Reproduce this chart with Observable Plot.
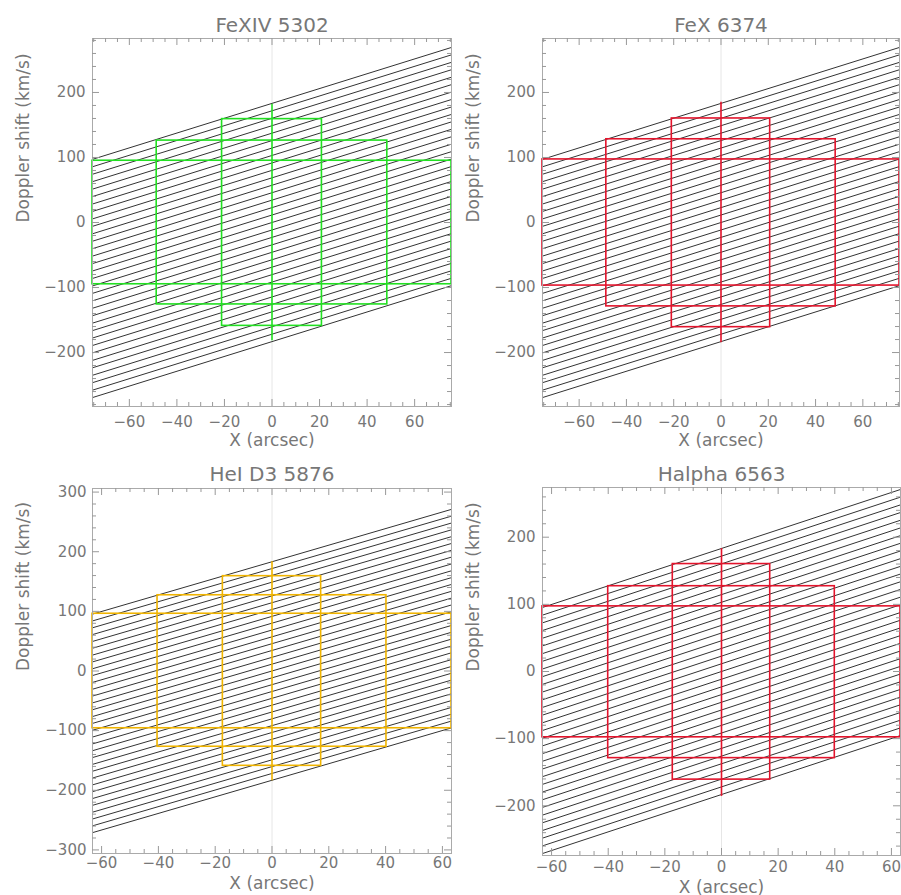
<!DOCTYPE html>
<html><head><meta charset="utf-8">
<script src="https://cdn.jsdelivr.net/npm/d3@7"></script>
<script src="https://cdn.jsdelivr.net/npm/@observablehq/plot@0.6"></script>
<style>
body{margin:0;background:#fff;}
#chart{position:relative;width:901px;height:895px;background:#fff;overflow:hidden;}
#chart svg{position:absolute;}
</style></head><body><div id="chart"></div>
<script>
// ---- data ----
const titles = ["FeXIV 5302", "FeX 6374", "HeI D3 5876", "Halpha 6563"];
const boxColors = ["#22e022", "#e3142c", "#f0b400", "#e3142c"];
const xLimits = [75.5, 75.5, 63.2, 63.2];
const yLimits = [283, 283, 306, 274];
const xTickValues = [-60, -40, -20, 0, 20, 40, 60];
const yTickValuesA = [-200, -100, 0, 100, 200];
const yTickValuesB = [-300, -200, -100, 0, 100, 200, 300];
const yTickSets = [yTickValuesA, yTickValuesA, yTickValuesB, yTickValuesA];
const lineSlopes = [1.14, 1.14, 1.39, 1.39];
const lineOffsets = [-183.2, -171.8, -160.3, -148.9, -137.4, -126.0, -114.5, -103.1, -91.6, -80.2, -68.7,
  -57.3, -45.8, -34.4, -22.9, -11.5, 0, 11.5, 22.9, 34.4, 45.8, 57.3, 68.7, 80.2, 91.6, 103.1,
  114.5, 126.0, 137.4, 148.9, 160.3, 171.8, 183.2];
const rectHalfWidths = [[75.5, 48.5, 21], [75.5, 48.5, 20.8], [63.2, 40.3, 17.3], [63.2, 40, 17.2]];
const rectTops = [[95, 126, 159], [97, 128, 160], [96, 127, 159], [97, 127, 160]];
const rectBottoms = [[-95, -126, -159], [-97, -129, -161], [-96, -127, -159], [-98, -129, -161]];
const centerTops = [182, 185, 183, 183];
const centerBottoms = [-182, -185, -184, -186];

// ---- layout ----
const layout = [
  {left: 0, top: 0, width: 453, height: 447, mt: 38, mb: 41, ml: 92, mr: 2, xPad: 10, xLab: 39, tDy: -7, yPad: 7},
  {left: 450, top: 0, width: 451, height: 447, mt: 38, mb: 41, ml: 92, mr: 2, xPad: 10, xLab: 39, tDy: -7, yPad: 7},
  {left: 0, top: 447, width: 453, height: 448, mt: 41, mb: 42, ml: 92, mr: 2, xPad: 4, xLab: 35, tDy: -8, yPad: 6},
  {left: 450, top: 447, width: 451, height: 448, mt: 40, mb: 40, ml: 92, mr: 1, xPad: 6, xLab: 37, tDy: -7, yPad: 7}
];
const textColor = "#777";
const frameColor = "#aaa";
const font = "DejaVu Sans, sans-serif";

const chart = document.getElementById("chart");

titles.forEach((title, i) => {
  const L = layout[i];
  const xl = xLimits[i], yl = yLimits[i], s = lineSlopes[i];
  const fw = L.width - L.ml - L.mr, fh = L.height - L.mt - L.mb;
  const lines = lineOffsets.map(c => ({x1: -xl, y1: c - s * xl, x2: xl, y2: c + s * xl}));
  const rects = rectHalfWidths[i].map((w, j) => ({x1: -w, x2: w, y1: rectBottoms[i][j], y2: rectTops[i][j]}));
  const xMinor = d3.range(-80, 81, 5).filter(v => Math.abs(v) < xl && v % 20 !== 0);
  const yMinor = d3.range(-400, 401, 20).filter(v => Math.abs(v) < yl && v % 100 !== 0);
  const yMajor = yTickSets[i];
  const color = boxColors[i];
  const tick = (data, opts) => Plot.tickX(data, {x: d => d, stroke: "#999", strokeWidth: 1, ...opts});
  const tickY = (data, opts) => Plot.tickY(data, {y: d => d, stroke: "#999", strokeWidth: 1, ...opts});
  const svg = Plot.plot({
    width: L.width, height: L.height,
    marginTop: L.mt, marginBottom: L.mb, marginLeft: L.ml, marginRight: L.mr,
    x: {domain: [-xl, xl]},
    y: {domain: [-yl, yl]},
    style: {background: "transparent", overflow: "visible", fontFamily: font, color: textColor},
    marks: [
      Plot.ruleX([0], {stroke: "#e6e6e6", strokeWidth: 1}),
      Plot.link(lines, {x1: "x1", y1: "y1", x2: "x2", y2: "y2", stroke: "#333", strokeWidth: 1}),
      Plot.rect(rects, {x1: "x1", x2: "x2", y1: "y1", y2: "y2", fill: "none", stroke: color, strokeWidth: 1.6}),
      Plot.ruleX([0], {y1: centerBottoms[i], y2: centerTops[i], stroke: color, strokeWidth: 1.6}),
      Plot.frame({stroke: frameColor, strokeWidth: 1}),
      // inward ticks on all four sides
      tick(xTickValues, {insetTop: fh - 7}),
      tick(xTickValues, {insetBottom: fh - 7}),
      tick(xMinor, {insetTop: fh - 4}),
      tick(xMinor, {insetBottom: fh - 4}),
      tickY(yMajor, {insetRight: fw - 7}),
      tickY(yMajor, {insetLeft: fw - 7}),
      tickY(yMinor, {insetRight: fw - 4}),
      tickY(yMinor, {insetLeft: fw - 4}),
      Plot.axisX(xTickValues, {anchor: "bottom", tickSize: 0, tickPadding: L.xPad, fontSize: 15, fill: textColor, label: null}),
      Plot.axisY(yMajor, {anchor: "left", tickSize: 0, tickPadding: L.yPad, fontSize: 15, fill: textColor, label: null}),
      Plot.text([title], {text: d => d, frameAnchor: "top", dy: L.tDy, lineAnchor: "bottom", fontSize: 20, fill: textColor}),
      Plot.text(["X (arcsec)"], {text: d => d, frameAnchor: "bottom", dy: L.xLab, lineAnchor: "bottom", fontSize: 17, fill: textColor}),
      Plot.text(["Doppler shift (km/s)"], {text: d => d, frameAnchor: "left", rotate: -90, dx: -64, lineAnchor: "bottom", fontSize: 17, fill: textColor})
    ]
  });
  svg.style.position = "absolute";
  svg.style.left = L.left + "px";
  svg.style.top = L.top + "px";
  svg.style.maxWidth = "none";
  chart.appendChild(svg);
});
</script></body></html>
